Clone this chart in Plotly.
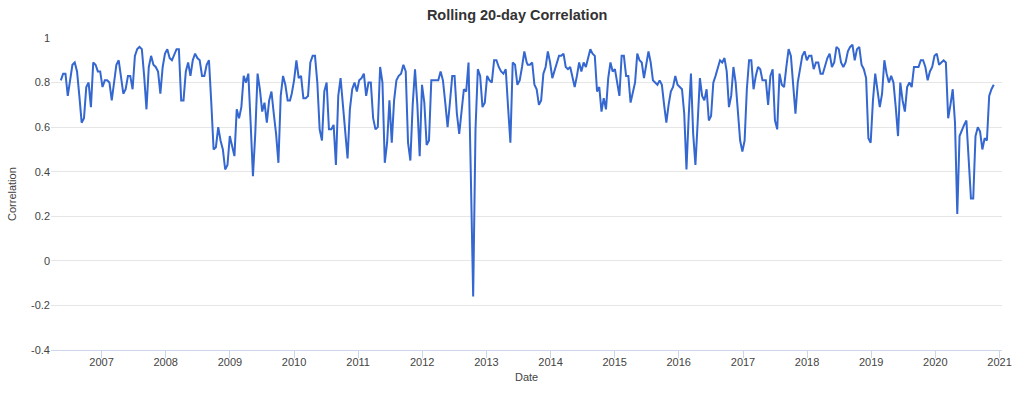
import pandas as pd
import plotly.graph_objects as go

# Rolling 20-day correlation in four consecutive stretches
corr_2006_2009 = [0.81,0.84,0.84,0.74,0.81,0.88,0.89,0.85,0.74,0.62,
                  0.64,0.78,0.80,0.69,0.89,0.88,0.85,0.85,0.78,0.81,
                  0.81,0.80,0.72,0.80,0.88,0.90,0.82,0.75,0.77,0.83,
                  0.83,0.77,0.92,0.95,0.96,0.95,0.83,0.68,0.87,0.92,
                  0.88,0.87,0.85,0.75,0.87,0.93,0.95,0.91,0.90,0.93,
                  0.95,0.95,0.72,0.72,0.85,0.89,0.83,0.90,0.93,0.91,
                  0.90,0.83,0.83,0.88,0.90,0.71,0.50,0.51,0.60,0.54,
                  0.50,0.41,0.43,0.56,0.52,0.47,0.68,0.64,0.69,0.83,
                  0.80,0.84,0.62,0.38,0.57,0.84,0.77,0.67,0.71,0.62,
                  0.72,0.76,0.66,0.57,0.44,0.74,0.83,0.79,0.72,0.72]
dates_2006_2009 = ("2006-05-14", "2009-12-09")

corr_2010_2013 = [0.75,0.81,0.90,0.82,0.83,0.73,0.73,0.74,0.89,0.92,
                  0.92,0.80,0.59,0.54,0.76,0.80,0.59,0.59,0.61,0.43,
                  0.74,0.82,0.70,0.59,0.46,0.68,0.77,0.80,0.76,0.81,
                  0.82,0.84,0.74,0.80,0.80,0.64,0.59,0.60,0.87,0.80,
                  0.44,0.53,0.72,0.53,0.72,0.81,0.83,0.84,0.88,0.85,
                  0.53,0.45,0.70,0.86,0.70,0.47,0.79,0.71,0.52,0.54,
                  0.81,0.81,0.81,0.81,0.85,0.81,0.71,0.60,0.71,0.83,
                  0.83,0.66,0.57,0.66,0.77,0.76,0.89,0.38,-0.16,0.59,
                  0.86,0.83,0.69,0.71,0.83,0.81,0.80,0.90,0.90,0.87,
                  0.85,0.84,0.86,0.69,0.53,0.89,0.88,0.79,0.81,0.87,
                  0.94,0.89]
dates_2010_2013 = ("2009-12-19", "2013-08-18")

corr_2013_2017 = [0.88,0.88,0.89,0.79,0.77,0.70,0.72,0.84,0.87,0.94,
                  0.89,0.82,0.85,0.88,0.92,0.92,0.93,0.87,0.86,0.87,
                  0.82,0.78,0.83,0.89,0.85,0.89,0.87,0.91,0.95,0.93,
                  0.92,0.76,0.78,0.67,0.73,0.68,0.82,0.89,0.85,0.86,
                  0.79,0.74,0.92,0.92,0.83,0.83,0.71,0.76,0.80,0.93,
                  0.90,0.89,0.82,0.88,0.94,0.89,0.81,0.80,0.79,0.81,
                  0.79,0.70,0.62,0.70,0.76,0.78,0.83,0.79,0.78,0.77,
                  0.66,0.41,0.65,0.84,0.57,0.43,0.62,0.82,0.74,0.72,
                  0.77,0.63,0.65,0.80,0.83,0.86,0.90,0.89,0.91,0.85,
                  0.69,0.74,0.87,0.80,0.68,0.54,0.49,0.54,0.77,0.90,
                  0.90,0.77,0.83,0.87,0.86,0.81]
dates_2013_2017 = ("2013-08-24", "2017-04-22")

corr_2017_2020 = [0.81,0.81,0.70,0.83,0.86,0.63,0.59,0.84,0.79,0.78,
                  0.87,0.95,0.92,0.78,0.66,0.80,0.86,0.92,0.94,0.90,
                  0.92,0.92,0.86,0.89,0.89,0.84,0.84,0.88,0.91,0.93,
                  0.87,0.89,0.96,0.95,0.89,0.87,0.89,0.94,0.96,0.97,
                  0.90,0.95,0.96,0.88,0.86,0.82,0.55,0.53,0.72,0.84,
                  0.77,0.69,0.75,0.90,0.84,0.80,0.83,0.80,0.69,0.56,
                  0.80,0.72,0.67,0.78,0.80,0.78,0.87,0.87,0.87,0.90,
                  0.90,0.87,0.81,0.85,0.87,0.92,0.93,0.88,0.89,0.90,
                  0.89,0.64,0.70,0.77,0.62,0.21,0.56,0.59,0.61,0.63,
                  0.45,0.28,0.28,0.56,0.60,0.58,0.50,0.55,0.54,0.74,
                  0.77,0.79]
dates_2017_2020 = ("2017-04-28", "2020-11-29")

y_ticks = [1, 0.8, 0.6, 0.4, 0.2, 0, -0.2, -0.4]
y_tick_labels = ["1", "0.8", "0.6", "0.4", "0.2", "0", "-0.2", "-0.4"]

segments = [(corr_2006_2009, dates_2006_2009), (corr_2010_2013, dates_2010_2013),
            (corr_2013_2017, dates_2013_2017), (corr_2017_2020, dates_2017_2020)]
dates, values = [], []
for vals, (start, end) in segments:
    dates.extend(pd.date_range(start, end, periods=len(vals)))
    values.extend(vals)

FONT = "Liberation Sans, Arial, sans-serif"
fig = go.Figure(go.Scatter(x=dates, y=values, mode="lines",
                           line=dict(color="#3467cf", width=2),
                           hoverinfo="x+y"))

fig.update_layout(
    width=1024, height=393, autosize=False,
    margin=dict(l=51, r=15, t=38, b=43),
    paper_bgcolor="white", plot_bgcolor="white",
    font=dict(family=FONT, color="#666666", size=11),
    showlegend=False,
    title=dict(text="<b>Rolling 20-day Correlation</b>", x=0.505, xref="container",
               xanchor="center", y=1 - 15 / 393, yref="container", yanchor="middle",
               font=dict(family=FONT, size=14.5, color="#333333")),
    xaxis=dict(type="date", range=["2006-03-19", "2021-01-15"],
               tick0="2007-01-01", dtick="M12", tickformat="%Y",
               showgrid=False, showline=True, linecolor="#ccd6eb", linewidth=1,
               ticks="outside", ticklen=7, tickcolor="#ccd6eb", tickwidth=1,
               ticklabelstandoff=-5,
               tickfont=dict(size=11, color="#444444"), zeroline=False),
    yaxis=dict(range=[-0.4, 1], tickvals=y_ticks, ticktext=y_tick_labels,
               showgrid=True, gridcolor="#e6e6e6", gridwidth=1, zeroline=False,
               showline=False, ticks="", tickfont=dict(size=11, color="#444444")),
    annotations=[
        dict(text="Correlation", textangle=-90, xref="paper", yref="paper",
             x=-0.041, y=0.5, xanchor="center", yanchor="middle", showarrow=False,
             font=dict(family=FONT, size=11, color="#444444")),
        dict(text="Date", xref="paper", yref="paper", x=0.5, y=-0.085,
             xanchor="center", yanchor="middle", showarrow=False,
             font=dict(family=FONT, size=11, color="#444444")),
    ],
)

fig.write_html("out.html", config={"displayModeBar": False},
               post_script="document.body.style.margin='0';document.body.style.padding='0';")
